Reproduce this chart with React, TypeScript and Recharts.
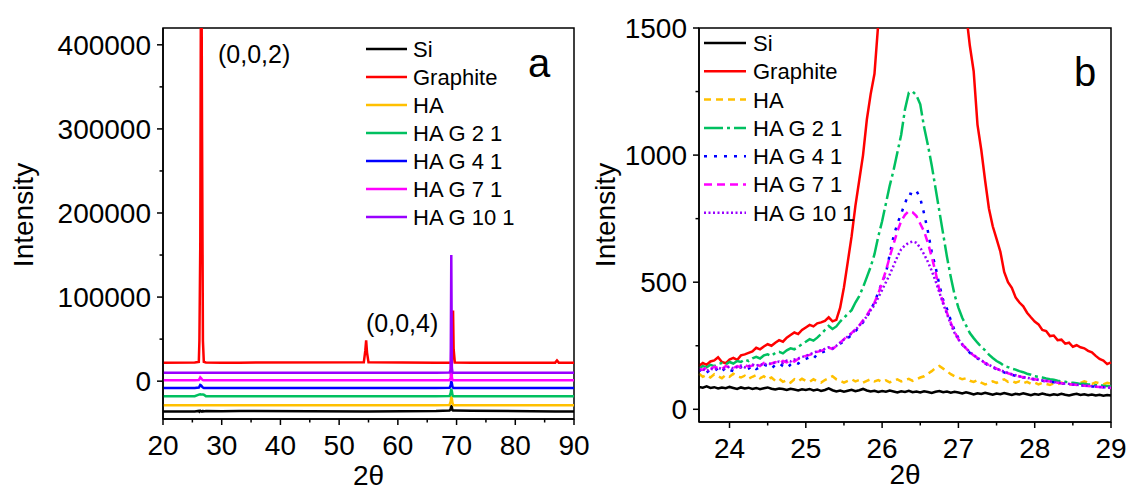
import { LineChart, Line, XAxis, YAxis, ReferenceArea } from 'recharts';

const FONT = "'Liberation Sans', Arial, Helvetica, sans-serif";

// ---- panel a: full scan 20-90 (offset traces)
const thetaA = [20, 25.4, 26.1, 26.2, 26.35, 26.5, 26.65, 26.8, 26.95, 27.3, 30, 33, 54.2, 54.45, 54.6, 54.75, 55, 66.5, 68.8, 69, 69.1, 69.2, 69.3, 69.4, 69.5, 69.7, 72.5, 86.8, 87.1, 87.4, 90];
const siA = [-36000, -36000, -35400, -36300, -35200, -35800, -36200, -35500, -36000, -35600, -35800, -35400, -36000, -36000, -36000, -36000, -36000, -35500, -34800, -33000, -28500, -31000, -34500, -35000, -35000, -35000, -35200, -36000, -36000, -36000, -36000];
const graphiteA = [22000, 22200, 22800, 48000, 165000, 600000, 300000, 48000, 23000, 22200, 22000, 22000, 22400, 36000, 48500, 34000, 22400, 22000, 22000, 22000, 22000, 22500, 40000, 84000, 38000, 22300, 22000, 22000, 24500, 22000, 22000];
const haA = [-28500, -28500, -28500, -28500, -28500, -28500, -28500, -28500, -28500, -28500, -28500, -28500, -28500, -28500, -28500, -28500, -28500, -28500, -28300, -24000, -18000, -21000, -26000, -27800, -28500, -28500, -28500, -28500, -28500, -28500, -28500];
const hag21A = [-18000, -17800, -16000, -15800, -15600, -15800, -16000, -16000, -16200, -17800, -18000, -18000, -18000, -18000, -18000, -18000, -18000, -18000, -17800, -14000, -9000, -12000, -16500, -17600, -18000, -18000, -18000, -18000, -18000, -18000, -18000];
const hag41A = [-8000, -8000, -7600, -6500, -4500, -5000, -6500, -7600, -8000, -8000, -8000, -8000, -8000, -8000, -8000, -8000, -8000, -8000, -7800, -5000, 0, -2500, -6500, -7600, -8000, -8000, -8000, -8000, -8000, -8000, -8000];
const hag71A = [1000, 1000, 1200, 2500, 4500, 3500, 2000, 1200, 1000, 1000, 1000, 1000, 1000, 1000, 1000, 1000, 1000, 1000, 1200, 4000, 40000, 5000, 1500, 1000, 1000, 1000, 1000, 1000, 1000, 1000, 1000];
const hag101A = [10000, 10000, 10000, 10000, 10000, 10000, 10000, 10000, 10000, 10000, 10000, 10000, 10000, 10000, 10000, 10000, 10000, 10000, 10200, 14000, 150000, 16000, 10500, 10000, 10000, 10000, 10000, 10000, 10000, 10000, 10000];

// ---- panel b: zoom on the (0,0,2) region
const thetaB = [
  23.6, 23.65, 23.7, 23.75, 23.8, 23.85, 23.9, 23.95, 24, 24.05,
  24.1, 24.15, 24.2, 24.25, 24.3, 24.35, 24.4, 24.45, 24.5, 24.55,
  24.6, 24.65, 24.7, 24.75, 24.8, 24.85, 24.9, 24.95, 25, 25.05,
  25.1, 25.15, 25.2, 25.25, 25.3, 25.35, 25.4, 25.45, 25.5, 25.55,
  25.6, 25.65, 25.7, 25.75, 25.8, 25.85, 25.9, 25.95, 26, 26.05,
  26.1, 26.15, 26.2, 26.25, 26.3, 26.35, 26.4, 26.45, 26.5, 26.55,
  26.6, 26.65, 26.7, 26.75, 26.8, 26.85, 26.9, 26.95, 27, 27.05,
  27.1, 27.15, 27.2, 27.25, 27.3, 27.35, 27.4, 27.45, 27.5, 27.55,
  27.6, 27.65, 27.7, 27.75, 27.8, 27.85, 27.9, 27.95, 28, 28.05,
  28.1, 28.15, 28.2, 28.25, 28.3, 28.35, 28.4, 28.45, 28.5, 28.55,
  28.6, 28.65, 28.7, 28.75, 28.8, 28.85, 28.9, 28.95, 29,
];
const siB = [
  88, 85, 90, 84, 87, 82, 86, 83, 88, 84,
  80, 86, 82, 85, 80, 84, 79, 83, 86, 81,
  78, 82, 80, 76, 81, 78, 74, 79, 76, 80,
  74, 78, 72, 76, 82, 75, 70, 74, 69, 73,
  77, 71, 75, 80, 74, 70, 73, 68, 72, 69,
  74, 70, 66, 71, 68, 73, 67, 70, 66, 71,
  68, 64, 69, 72, 67, 70, 65, 69, 66, 62,
  67, 63, 58, 63, 60, 65, 61, 57, 62, 59,
  64, 60, 56, 61, 58, 63, 59, 55, 60, 57,
  62, 58, 55, 59, 56, 61, 57, 54, 58, 61,
  56, 59, 55, 58, 54, 57, 53, 56, 54,
];
const graphiteB = [
  170, 182, 175, 188, 192, 205, 186, 181, 196, 202,
  194, 212, 216, 222, 228, 242, 236, 247, 256, 250,
  262, 272, 266, 282, 292, 302, 296, 312, 322, 332,
  326, 338, 342, 348, 362, 346, 352, 400, 480, 580,
  680, 800, 900, 1000, 1140, 1240, 1320, 1520, 1900, 2600,
  4000, 8000, 15000, 30000, 60000, 120000, 250000, 380000, 430000, 360000,
  220000, 110000, 50000, 20000, 9000, 4500, 2800, 2100, 1800, 1650,
  1560, 1430, 1330, 1120, 1020, 900, 790, 720, 670, 620,
  540, 500, 478, 440, 420, 405, 380, 362, 345, 334,
  312, 308, 288, 290, 272, 274, 258, 262, 246, 252,
  244, 240, 230, 224, 210, 198, 192, 178, 185,
];
const haB = [
  140, 128, 135, 125, 138, 130, 122, 135, 128, 140,
  130, 125, 132, 120, 128, 135, 122, 130, 118, 125,
  112, 120, 108, 115, 105, 118, 110, 120, 112, 108,
  118, 110, 105, 115, 122, 130, 118, 112, 105, 112,
  118, 110, 115, 105, 112, 118, 110, 115, 108, 114,
  106, 112, 118, 110, 115, 120, 112, 118, 125, 130,
  140, 150, 162, 170, 160, 150, 138, 130, 125, 118,
  122, 112, 108, 115, 105, 98, 102, 110, 104, 112,
  118, 108, 112, 105, 110, 102, 108, 100, 105, 98,
  104, 100, 96, 102, 98, 105, 100, 96, 102, 98,
  104, 110, 105, 100, 106, 102, 98, 104, 100,
];
const hag21B = [
  160, 170, 165, 175, 170, 178, 182, 176, 186, 180,
  190, 186, 196, 190, 200, 206, 200, 212, 216, 210,
  222, 226, 220, 232, 240, 236, 246, 256, 266, 276,
  270, 282, 296, 312, 328, 316, 326, 345, 360, 375,
  390, 420, 445, 480, 520, 560, 610, 680, 740, 810,
  880, 940, 1010, 1080, 1180, 1245, 1250, 1235, 1200, 1110,
  1040, 960, 870, 780, 690, 600, 520, 450, 400, 360,
  330, 300, 280, 262, 245, 232, 215, 202, 190, 182,
  170, 166, 160, 156, 150, 146, 140, 136, 130, 128,
  125, 121, 118, 116, 112, 110, 108, 106, 104, 102,
  100, 100, 98, 97, 95, 95, 93, 92, 90,
];
const hag41B = [
  150, 160, 145, 155, 150, 162, 148, 165, 155, 150,
  160, 166, 154, 160, 172, 158, 165, 176, 170, 160,
  175, 182, 170, 162, 176, 186, 180, 192, 198, 205,
  198, 218, 222, 228, 234, 238, 248, 258, 268, 280,
  292, 308, 322, 342, 362, 392, 420, 460, 500, 535,
  610, 680, 730, 770, 810, 850, 845, 860, 830, 770,
  700, 620, 560, 490, 430, 395, 350, 310, 280, 255,
  238, 222, 210, 200, 190, 180, 172, 165, 158, 150,
  145, 140, 135, 132, 128, 125, 122, 120, 117, 114,
  112, 110, 108, 106, 104, 102, 100, 99, 97, 96,
  94, 93, 91, 90, 89, 88, 87, 86, 85,
];
const hag71B = [
  160, 155, 165, 158, 168, 162, 158, 170, 165, 162,
  170, 165, 174, 168, 172, 178, 170, 182, 176, 180,
  186, 180, 190, 185, 194, 188, 198, 204, 210, 214,
  220, 226, 230, 236, 242, 238, 248, 262, 276, 288,
  300, 315, 330, 350, 370, 395, 420, 455, 500, 545,
  600, 650, 700, 740, 765, 780, 775, 760, 730, 700,
  655, 600, 540, 470, 420, 380, 340, 305, 275, 255,
  240, 224, 212, 202, 192, 182, 174, 166, 160, 153,
  147, 142, 137, 133, 129, 126, 123, 120, 118, 115,
  113, 111, 109, 107, 104, 102, 101, 99, 98, 96,
  95, 93, 92, 90, 89, 88, 86, 85, 84,
];
const hag101B = [
  152, 158, 150, 160, 155, 164, 158, 162, 168, 160,
  166, 172, 165, 170, 176, 170, 178, 174, 182, 178,
  184, 188, 182, 192, 188, 196, 200, 206, 210, 216,
  222, 228, 232, 238, 244, 240, 250, 262, 274, 286,
  298, 312, 328, 346, 366, 390, 410, 440, 470, 500,
  530, 565, 600, 630, 645, 655, 660, 655, 635, 610,
  580, 545, 505, 460, 415, 375, 335, 300, 275, 256,
  240, 225, 213, 203, 193, 183, 175, 167, 160, 154,
  148, 143, 138, 134, 130, 127, 124, 121, 119, 116,
  114, 112, 110, 108, 105, 103, 101, 100, 98, 97,
  95, 94, 92, 91, 90, 88, 87, 86, 85,
];

// ---- axis ticks
const ticksAx = [20, 25, 30, 35, 40, 45, 50, 55, 60, 65, 70, 75, 80, 85, 90];
const majorAx = [20, 30, 40, 50, 60, 70, 80, 90];
const ticksAy = [0, 50000, 100000, 150000, 200000, 250000, 300000, 350000, 400000];
const majorAy = [0, 100000, 200000, 300000, 400000];
const ticksBx = [24, 24.5, 25, 25.5, 26, 26.5, 27, 27.5, 28, 28.5, 29];
const majorBx = [24, 25, 26, 27, 28, 29];
const ticksBy = [0, 250, 500, 750, 1000, 1250, 1500];
const majorBy = [0, 500, 1000, 1500];

const names = ['Si', 'Graphite', 'HA', 'HA G 2 1', 'HA G 4 1', 'HA G 7 1', 'HA G 10 1'];
const keys = ['si', 'graphite', 'ha', 'g21', 'g41', 'g71', 'g101'];
const colors = ['#000000', '#FF0000', '#FFC000', '#00C060', '#0000FF', '#FF00FF', '#9900FF'];
// dash styles used in panel b only
const dashesB = [undefined, undefined, '7 5', '19 4 3 4', '3 7', '8 5', '2 2.5'];

const rowsA = thetaA.map((t, i) => ({
  t, si: siA[i], graphite: graphiteA[i], ha: haA[i], g21: hag21A[i], g41: hag41A[i], g71: hag71A[i], g101: hag101A[i],
}));
const rowsB = thetaB.map((t, i) => ({
  t, si: siB[i], graphite: graphiteB[i], ha: haB[i], g21: hag21B[i], g41: hag41B[i], g71: hag71B[i], g101: hag101B[i],
}));

const makeXTick = (majors: number[]) => (props: any) => {
  const { x, y, payload } = props;
  const major = majors.includes(payload.value);
  return (
    <g>
      <line x1={x} x2={x} y1={y} y2={y + (major ? 6 : 3.5)} stroke='#000' strokeWidth={1.5} />
      {major && (
        <text x={x} y={y + 36} textAnchor='middle' fontSize={28} fontFamily={FONT} fill='#000'>
          {payload.value}
        </text>
      )}
    </g>
  );
};

const makeYTick = (majors: number[]) => (props: any) => {
  const { x, y, payload } = props;
  const major = majors.includes(payload.value);
  return (
    <g>
      <line x1={x} x2={x - (major ? 6 : 3.5)} y1={y} y2={y} stroke='#000' strokeWidth={1.5} />
      {major && (
        <text x={x - 12} y={y} dy='0.36em' textAnchor='end' fontSize={28} fontFamily={FONT} fill='#000'>
          {payload.value}
        </text>
      )}
    </g>
  );
};

function LegendRows({ x1, x2, tx, y0, step, dashed }: { x1: number; x2: number; tx: number; y0: number; step: number; dashed: boolean }) {
  return (
    <g>
      {names.map((n, i) => {
        const y = y0 + i * step;
        return (
          <g key={n}>
            <line x1={x1} x2={x2} y1={y} y2={y} stroke={colors[i]} strokeWidth={2.5} strokeDasharray={dashed ? dashesB[i] : undefined} />
            <text x={tx} y={y} dy='0.36em' fontSize={22} fontFamily={FONT} fill='#000'>{n}</text>
          </g>
        );
      })}
    </g>
  );
}

export default function App() {
  return (
    <div style={{ position: 'absolute', left: 0, top: 0, width: 1129, height: 491, background: '#fff', fontFamily: FONT }}>
      <div style={{ position: 'absolute', left: 0, top: 0 }}>
        <LineChart width={590} height={491} data={rowsA} margin={{ top: 28, right: 16, bottom: 0, left: 0 }}>
          <XAxis dataKey='t' type='number' domain={[20, 90]} ticks={ticksAx} interval={0} height={72}
            tickSize={0} tickMargin={0} tickLine={false} tick={makeXTick(majorAx)} axisLine={{ stroke: '#000', strokeWidth: 1.5 }} />
          <YAxis type='number' domain={[-45000, 420000]} allowDataOverflow ticks={ticksAy} interval={0} width={163}
            tickSize={0} tickMargin={0} tickLine={false} tick={makeYTick(majorAy)} axisLine={{ stroke: '#000', strokeWidth: 1.5 }} />
          <ReferenceArea x1={20} x2={90} y1={-45000} y2={420000} fill='none' stroke='#000' strokeWidth={1.5} ifOverflow='visible' />
          {keys.map((k, i) => (
            <Line key={k} dataKey={k} type='linear' stroke={colors[i]} strokeWidth={2.5} dot={false} isAnimationActive={false} />
          ))}
        </LineChart>
      </div>
      <div style={{ position: 'absolute', left: 590, top: 0 }}>
        <LineChart width={539} height={491} data={rowsB} margin={{ top: 28, right: 18, bottom: 0, left: 0 }}>
          <XAxis dataKey='t' type='number' domain={[23.6, 29]} ticks={ticksBx} interval={0} height={69}
            tickSize={0} tickMargin={0} tickLine={false} tick={makeXTick(majorBx)} axisLine={{ stroke: '#000', strokeWidth: 1.5 }} />
          <YAxis type='number' domain={[-50, 1500]} allowDataOverflow ticks={ticksBy} interval={0} width={109}
            tickSize={0} tickMargin={0} tickLine={false} tick={makeYTick(majorBy)} axisLine={{ stroke: '#000', strokeWidth: 1.5 }} />
          <ReferenceArea x1={23.6} x2={29} y1={-50} y2={1500} fill='none' stroke='#000' strokeWidth={1.5} ifOverflow='visible' />
          {keys.map((k, i) => (
            <Line key={k} dataKey={k} type='linear' stroke={colors[i]} strokeWidth={2.5} strokeDasharray={dashesB[i]}
              dot={false} isAnimationActive={false} />
          ))}
        </LineChart>
      </div>
      <svg width={1129} height={491} style={{ position: 'absolute', left: 0, top: 0, pointerEvents: 'none' }}>
        <text transform='translate(33,215) rotate(-90)' textAnchor='middle' fontSize={28} fontFamily={FONT}>Intensity</text>
        <text transform='translate(615,215) rotate(-90)' textAnchor='middle' fontSize={28} fontFamily={FONT}>Intensity</text>
        <text x={368.5} y={485} textAnchor='middle' fontSize={28} fontFamily={FONT}>2θ</text>
        <text x={905} y={484} textAnchor='middle' fontSize={28} fontFamily={FONT}>2θ</text>
        <text x={218} y={63} fontSize={25} fontFamily={FONT}>(0,0,2)</text>
        <text x={366} y={332} fontSize={25} fontFamily={FONT}>(0,0,4)</text>
        <text x={539} y={77} textAnchor='middle' fontSize={40} fontFamily={FONT}>a</text>
        <text x={1085} y={86} textAnchor='middle' fontSize={40} fontFamily={FONT}>b</text>
        <LegendRows x1={366} x2={407} tx={413} y0={49} step={28} dashed={false} />
        <LegendRows x1={704} x2={746} tx={753} y0={43} step={28.3} dashed={true} />
      </svg>
    </div>
  );
}
